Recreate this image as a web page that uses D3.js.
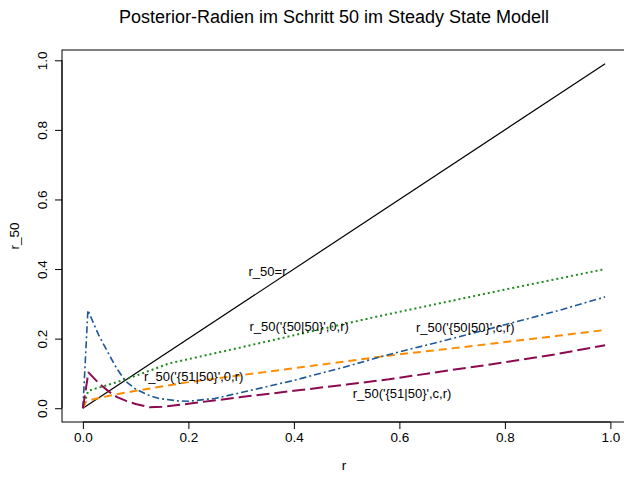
<!DOCTYPE html>
<html><head><meta charset="utf-8">
<script src="https://cdn.jsdelivr.net/npm/d3@7"></script>
<style>body{margin:0;background:#fff}svg text{font-family:"Liberation Sans",Arial,sans-serif}</style>
</head><body><svg id="c" width="624" height="479"></svg>
<script>
// r values and series
const rIdentity = [0, 0.99];
const vIdentity = [0, 0.99];

const rGreen = [0, 0.01, 0.05, 0.076, 0.1, 0.164, 0.2, 0.3, 0.43, 0.5625, 0.7, 0.8, 0.9, 0.99];
const vGreen = [0, 0.05, 0.068, 0.081, 0.093, 0.129, 0.141, 0.175, 0.22, 0.265, 0.309, 0.341, 0.372, 0.40];

const rOrange = [0, 0.005, 0.01, 0.05, 0.1, 0.164, 0.2, 0.3, 0.4, 0.5, 0.6, 0.7, 0.8, 0.9, 0.99];
const vOrange = [0, 0.017, 0.022, 0.036, 0.05, 0.066, 0.075, 0.095, 0.115, 0.135, 0.155, 0.172, 0.19, 0.208, 0.225];

const rBlue = [0, 0.0095, 0.02, 0.03, 0.05, 0.065, 0.082, 0.1, 0.125, 0.145, 0.18, 0.2, 0.25, 0.3, 0.4, 0.5, 0.5625, 0.6, 0.7, 0.8, 0.9, 0.99];
const vBlue = [0, 0.282, 0.245, 0.21, 0.153, 0.112, 0.076, 0.055, 0.037, 0.028, 0.021, 0.02, 0.028, 0.045, 0.08, 0.12, 0.147, 0.162, 0.2, 0.24, 0.28, 0.32];

const rPurple = [0, 0.0105, 0.02, 0.03, 0.05, 0.065, 0.082, 0.1, 0.126, 0.15, 0.18, 0.2, 0.3, 0.4, 0.5, 0.58, 0.7, 0.8, 0.9, 0.99];
const vPurple = [0, 0.103, 0.088, 0.072, 0.047, 0.032, 0.021, 0.012, 0.003, 0.004, 0.009, 0.013, 0.032, 0.05, 0.068, 0.083, 0.11, 0.132, 0.156, 0.181];

const xTicks = [0, 0.2, 0.4, 0.6, 0.8, 1.0];
const yTicks = [0, 0.2, 0.4, 0.6, 0.8, 1.0];

const labelTexts = ["r_50=r", "r_50('{50|50}',0,r)", "r_50('{51|50}',0,r)", "r_50('{50|50}',c,r)", "r_50('{51|50}',c,r)"];
const labelR = [0.35, 0.41, 0.21, 0.725, 0.605];
const labelV = [0.393, 0.235, 0.092, 0.233, 0.043];

const titleText = "Posterior-Radien im Schritt 50 im Steady State Modell";

const svg = d3.select("#c");
const L = 62, R = 626, T = 50, B = 422;
const x = d3.scaleLinear().domain([-0.0396, 1.0296]).range([L, R]);
const y = d3.scaleLinear().domain([-0.0396, 1.0296]).range([B, T]);

const series = [
  {r: rIdentity, v: vIdentity, color: "#000000", w: 1.2, dash: null},
  {r: rGreen, v: vGreen, color: "#1E8B1E", w: 2, dash: "2,3"},
  {r: rOrange, v: vOrange, color: "#FF8C00", w: 2, dash: "8,5"},
  {r: rBlue, v: vBlue, color: "#1C5799", w: 1.6, dash: "7,3,2,3"},
  {r: rPurple, v: vPurple, color: "#8B0A50", w: 2, dash: "13,5"}
];
const line = d3.line().x(d => x(d[0])).y(d => y(d[1]));
series.forEach(s => {
  svg.append("path")
    .attr("d", line(s.r.map((r, i) => [r, s.v[i]])))
    .attr("fill", "none").attr("stroke", s.color).attr("stroke-width", s.w)
    .attr("stroke-dasharray", s.dash).attr("stroke-linejoin", "round");
});

// box
svg.append("rect").attr("x", L).attr("y", T).attr("width", R - L).attr("height", B - T)
  .attr("fill", "none").attr("stroke", "#000").attr("stroke-width", 1);

// x axis
const gx = svg.append("g").attr("transform", `translate(0,${B})`)
  .call(d3.axisBottom(x).tickValues(xTicks).tickFormat(d3.format(".1f")).tickSize(7).tickPadding(3));
gx.select(".domain").remove();
gx.append("line").attr("x1", x(0)).attr("x2", x(1)).attr("stroke", "#000");
gx.selectAll("text").attr("font-size", 13.5).attr("fill", "#000").attr("font-family", "Liberation Sans, Arial, sans-serif");

// y axis
const gy = svg.append("g").attr("transform", `translate(${L},0)`)
  .call(d3.axisLeft(y).tickValues(yTicks).tickFormat(d3.format(".1f")).tickSize(7).tickPadding(0));
gy.select(".domain").remove();
gy.append("line").attr("y1", y(0)).attr("y2", y(1)).attr("stroke", "#000");
gy.selectAll(".tick text")
  .attr("x", null).attr("dy", "0.35em")
  .attr("text-anchor", "middle")
  .attr("transform", `translate(${42 - L},0) rotate(-90)`)
  .attr("font-size", 13.5).attr("fill", "#000").attr("font-family", "Liberation Sans, Arial, sans-serif");

// labels
svg.append("text").attr("x", 334).attr("y", 23).attr("text-anchor", "middle")
  .attr("font-size", 18).text(titleText);
svg.append("text").attr("x", (L + R) / 2).attr("y", 470).attr("text-anchor", "middle")
  .attr("font-size", 13.5).text("r");
svg.append("text").attr("transform", `translate(19,${(T + B) / 2}) rotate(-90)`)
  .attr("text-anchor", "middle").attr("font-size", 13.5).text("r_50");

labelTexts.forEach((t, i) => {
  svg.append("text").attr("x", x(labelR[i])).attr("y", y(labelV[i])).attr("dy", "0.35em")
    .attr("text-anchor", "middle").attr("font-size", 13).text(t);
});
</script></body></html>
